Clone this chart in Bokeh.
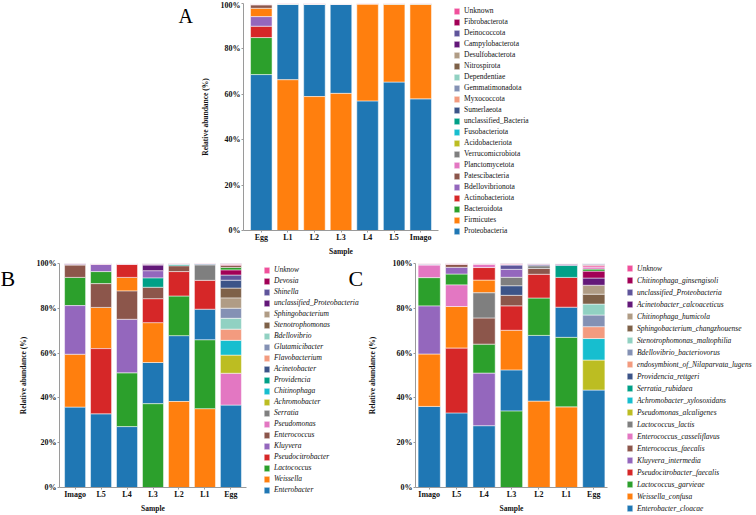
import numpy as np
from bokeh.plotting import figure
from bokeh.models import FactorRange, Range1d, FixedTicker, Legend, LegendItem, Label
from bokeh.layouts import column, row
from bokeh.embed import file_html
from bokeh.resources import INLINE

# ---------------- data ----------------
y_ticks = [0, 20, 40, 60, 80, 100]
y_tick_labels = ["0%", "20%", "40%", "60%", "80%", "100%"]

# Panel A (phylum)
A_samples = ["Egg", "L1", "L2", "L3", "L4", "L5", "Imago"]
A_taxa = ["Proteobacteria", "Firmicutes", "Bacteroidota", "Actinobacteriota", "Bdellovibrionota",
          "Patescibacteria", "Planctomycetota", "Verrucomicrobiota", "Acidobacteriota", "Fusobacteriota",
          "unclassified_Bacteria", "Sumerlaeota", "Myxococcota", "Gemmatimonadota", "Dependentiae",
          "Nitrospirota", "Desulfobacterota", "Campylobacterota", "Deinococcota", "Fibrobacterota", "Unknown"]
A_egg   = [68.7, 3.7, 16.3, 5.0, 4.2, 1.5, 0.15, 0.08, 0.05, 0.03, 0.04, 0.02, 0.03, 0.02, 0.01, 0.01, 0.02, 0.01, 0.01, 0.01, 0.12]
A_l1    = [33.3, 66.4, 0.08, 0.05, 0.02, 0.02, 0.03, 0.01, 0.01, 0, 0.01, 0, 0, 0, 0, 0, 0, 0, 0, 0, 0.07]
A_l2    = [40.6, 59.0, 0.12, 0.08, 0.03, 0.03, 0.04, 0.02, 0.01, 0, 0.01, 0, 0, 0, 0, 0, 0, 0, 0, 0, 0.06]
A_l3    = [39.2, 60.4, 0.10, 0.06, 0.02, 0.02, 0.12, 0.01, 0.01, 0, 0.01, 0, 0, 0, 0, 0, 0, 0, 0, 0, 0.05]
A_l4    = [57.1, 42.7, 0.08, 0.05, 0.01, 0.01, 0.02, 0.01, 0, 0, 0, 0, 0, 0, 0, 0, 0, 0, 0, 0, 0.03]
A_l5    = [65.4, 34.3, 0.12, 0.08, 0.02, 0.02, 0.03, 0.01, 0, 0, 0, 0, 0, 0, 0, 0, 0, 0, 0, 0, 0.03]
A_imago = [58.0, 41.7, 0.12, 0.08, 0.03, 0.02, 0.02, 0.01, 0, 0, 0, 0, 0, 0, 0, 0, 0, 0, 0, 0, 0.03]

# Panel B (genus)
B_samples = ["Imago", "L5", "L4", "L3", "L2", "L1", "Egg"]
B_taxa = ["Enterobacter", "Weissella", "Lactococcus", "Pseudocitrobacter", "Kluyvera", "Enterococcus",
          "Pseudomonas", "Serratia", "Achromobacter", "Chitinophaga", "Providencia", "Acinetobacter",
          "Flavobacterium", "Glutamicibacter", "Bdellovibrio", "Stenotrophomonas", "Sphingobacterium",
          "unclassified_Proteobacteria", "Shinella", "Devosia", "Unknow"]
B_imago = [35.9, 23.6, 12.6, 0.1, 21.7, 5.5, 0.05, 0.03, 0, 0, 0.02, 0.02, 0, 0, 0, 0, 0, 0.35, 0, 0, 0.1]
B_l5    = [32.9, 18.4, 5.4, 29.1, 3.3, 10.6, 0.05, 0.03, 0, 0, 0.02, 0.02, 0, 0, 0, 0, 0, 0.05, 0, 0, 0.1]
B_l4    = [27.2, 6.1, 24.0, 5.9, 23.9, 12.6, 0.05, 0.03, 0, 0, 0.02, 0.02, 0, 0, 0, 0, 0, 0.05, 0, 0, 0.1]
B_l3    = [18.4, 17.8, 37.4, 10.7, 3.3, 5.1, 0.05, 0.05, 0, 0, 4.1, 0.05, 0, 0, 0, 0, 0, 2.5, 0.4, 0, 0.1]
B_l2    = [29.4, 38.4, 17.7, 10.9, 0.05, 2.6, 0.03, 0.05, 0, 0, 0.6, 0.15, 0, 0, 0, 0, 0, 0.05, 0, 0, 0.1]
B_l1    = [13.7, 35.2, 30.7, 12.9, 0.03, 0.05, 0.03, 6.9, 0, 0, 0.02, 0.4, 0, 0, 0, 0, 0, 0.03, 0, 0, 0.1]
B_egg   = [36.8, 0.05, 1.2, 0.05, 0.05, 1.0, 14.2, 0.1, 8.1, 6.6, 0.1, 3.6, 5.0, 4.55, 4.8, 4.4, 4.5, 0.1, 2.3, 2.2, 0.3]

# Panel C (species)
C_samples = ["Imago", "L5", "L4", "L3", "L2", "L1", "Egg"]
C_taxa = ["Enterobacter_cloacae", "Weissella_confusa", "Lactococcus_garvieae", "Pseudocitrobacter_faecalis",
          "Kluyvera_intermedia", "Enterococcus_faecalis", "Enterococcus_casseliflavus", "Lactococcus_lactis",
          "Pseudomonas_alcaligenes", "Achromobacter_xylosoxidans", "Serratia_rubidaea", "Providencia_rettgeri",
          "endosymbiont_of_Nilaparvata_lugens", "Bdellovibrio_bacteriovorus", "Stenotrophomonas_maltophilia",
          "Sphingobacterium_changzhouense", "Chitinophaga_humicola", "Acinetobacter_calcoaceticus",
          "unclassified_Proteobacteria", "Chitinophaga_ginsengisoli", "Unknow"]
C_imago = [36.2, 23.4, 12.7, 0.1, 21.4, 0.1, 5.6, 0.05, 0, 0, 0.02, 0.02, 0, 0, 0, 0, 0, 0.02, 0.3, 0, 0.1]
C_l5    = [33.3, 18.6, 4.9, 28.9, 3.0, 1.4, 9.6, 0.03, 0, 0, 0.02, 0.02, 0, 0, 0, 0, 0, 0.03, 0.03, 0, 0.15]
C_l4    = [27.6, 5.7, 13.0, 5.6, 23.4, 11.7, 1.4, 11.2, 0, 0, 0.02, 0.02, 0, 0, 0, 0, 0, 0.03, 0.05, 0, 0.2]
C_l3    = [18.4, 17.7, 34.1, 10.9, 3.6, 4.7, 0.2, 3.8, 0, 0, 0.05, 4.2, 0, 0, 0, 0, 0, 0.05, 1.9, 0.1, 0.3]
C_l2    = [29.4, 38.5, 16.7, 10.6, 0.05, 2.6, 0.05, 1.2, 0, 0, 0.2, 0.05, 0, 0, 0, 0, 0, 0.03, 0.5, 0, 0.1]
C_l1    = [13.5, 36.0, 31.0, 13.3, 0.03, 0.05, 0.03, 0.03, 0, 0, 5.3, 0.05, 0, 0, 0, 0, 0, 0.03, 0.6, 0, 0.1]
C_egg   = [43.5, 0.05, 1.0, 0.05, 0.05, 0.4, 0.9, 0.05, 13.4, 9.6, 0.05, 0.05, 5.3, 5.2, 4.9, 4.4, 4.0, 3.2, 0.3, 3.0, 0.6]

# colours, bottom-to-top legend order
PALETTE = ["#1F77B4", "#FF7F0E", "#2CA02C", "#D62728", "#9467BD", "#8C564B", "#E377C2", "#7F7F7F",
           "#BCBD22", "#17BECF", "#00A087", "#3C5488", "#F39B7F", "#8491B4", "#91D1C2", "#7E6148",
           "#B09C85", "#631879", "#5F559B", "#A20056", "#F0509B"]

FONT = "Liberation Serif"
AXIS_COLOR = "#9a9a9a"
TXT = "#111111"


def blank_fig(w, h):
    f = figure(width=w, height=h, x_range=Range1d(0, 1), y_range=Range1d(0, 1),
               x_axis_type=None, y_axis_type=None, toolbar_location=None,
               output_backend="svg", min_border=0, title=None)
    f.outline_line_color = None
    f.xgrid.visible = False
    f.ygrid.visible = False
    return f


def add_letter(f, text, x, y, size):
    f.add_layout(Label(x=x, y=y, x_units="screen", y_units="screen", text=text,
                       text_font=FONT, text_font_size=size, text_color="black",
                       text_baseline="alphabetic", text_align="left"))


def legend_fig(taxa, w, h, lx, ly, item_h, italic):
    f = blank_fig(w, h)
    # legend-only renderers, kept outside the visible range
    rs = [f.vbar(x=[-5], top=[-5], bottom=[-6], width=1, fill_color=PALETTE[t],
                 line_color="white", line_width=0.5)
          for t in range(len(taxa))]
    items = [LegendItem(label=taxa[t], renderers=[rs[t]]) for t in reversed(range(len(taxa)))]
    leg = Legend(items=items, location=(lx, ly), orientation="vertical",
                 glyph_width=7, glyph_height=8, label_height=item_h, label_standoff=4, spacing=2,
                 padding=0, margin=0, border_line_alpha=0, background_fill_alpha=0,
                 label_text_font=FONT, label_text_font_size="7.5px",
                 label_text_font_style="italic" if italic else "normal", label_text_color=TXT)
    f.add_layout(leg)
    return f


def make_panel(samples, taxa, table, width, height, bl, br, bt, bb, pad, ylab_standoff):
    p = figure(x_range=FactorRange(*samples, range_padding=pad, range_padding_units="absolute"),
               y_range=Range1d(0, 100), width=width, height=height, title=None,
               output_backend="svg", toolbar_location=None,
               min_border_left=bl, min_border_right=br, min_border_top=bt, min_border_bottom=bb)
    vals = np.array(table, dtype=float)
    bottoms = np.zeros_like(vals)
    tops = np.zeros_like(vals)
    for s in range(vals.shape[0]):
        order = np.argsort(-vals[s], kind="stable")
        cum = 0.0
        for t in order:
            bottoms[s, t] = cum
            cum += vals[s, t]
            tops[s, t] = cum
    for t, name in enumerate(taxa):
        idx = [i for i in range(len(samples)) if vals[i, t] > 0]
        p.vbar(x=[samples[i] for i in idx], bottom=[bottoms[i, t] for i in idx],
               top=[tops[i, t] for i in idx], width=0.81,
               fill_color=PALETTE[t], line_color="white", line_width=0.5)

    p.xgrid.grid_line_color = None
    p.ygrid.grid_line_color = None
    p.outline_line_color = None
    p.yaxis.ticker = FixedTicker(ticks=y_ticks)
    p.yaxis.major_label_overrides = {k: v for k, v in zip(y_ticks, y_tick_labels)}
    p.xaxis.axis_label = "Sample"
    p.yaxis.axis_label = "Relative abundance (%)"
    for ax in (p.xaxis[0], p.yaxis[0]):
        ax.axis_line_color = AXIS_COLOR
        ax.major_tick_line_color = AXIS_COLOR
        ax.minor_tick_line_color = None
        ax.major_tick_out = 2
        ax.major_tick_in = 0
        ax.major_label_text_font = FONT
        ax.major_label_text_font_style = "bold"
        ax.major_label_text_font_size = "8px"
        ax.major_label_text_color = TXT
        ax.axis_label_text_font = FONT
        ax.axis_label_text_font_style = "bold"
        ax.axis_label_text_font_size = "7.5px"
        ax.axis_label_text_color = TXT
    p.yaxis.major_label_standoff = 1
    p.yaxis.axis_label_standoff = ylab_standoff
    p.xaxis.major_label_standoff = 0
    p.xaxis.axis_label_standoff = 2
    return p


# ---------------- top row (panel A) ----------------
HA = 258
fA = blank_fig(197, HA)
add_letter(fA, "A", 178, HA - 15, "20px")
pA = make_panel(A_samples, A_taxa, [A_egg, A_l1, A_l2, A_l3, A_l4, A_l5, A_imago],
                width=243, height=HA, bl=41, br=2, bt=3, bb=28, pad=0.17, ylab_standoff=8)
lA = legend_fig(A_taxa, 120, HA, 13, 23, 9, False)

# ---------------- bottom row (panels B, C) ----------------
HB = 257
fB = blank_fig(15, HB)
add_letter(fB, "B", 0, HB - 20, "22px")
pB = make_panel(B_samples, B_taxa, [B_imago, B_l5, B_l4, B_l3, B_l2, B_l1, B_egg],
                width=233, height=HB, bl=38, br=2, bt=4, bb=28, pad=0.1, ylab_standoff=6)
lB = legend_fig(B_taxa, 116, HB, 15, 21, 9, True)
add_letter(lB, "C", 100, HB - 20, "22px")
pC = make_panel(C_samples, C_taxa, [C_imago, C_l5, C_l4, C_l3, C_l2, C_l1, C_egg],
                width=245, height=HB, bl=45, br=2, bt=5, bb=28, pad=0.0, ylab_standoff=13)
lC = legend_fig(C_taxa, 147, HB, 17, 2, 10, True)

layout = column(row(column(fA), pA, column(lA)),
                row(column(fB), pB, column(lB), pC, column(lC)))
open("out.html", "w").write(file_html(layout, INLINE))
